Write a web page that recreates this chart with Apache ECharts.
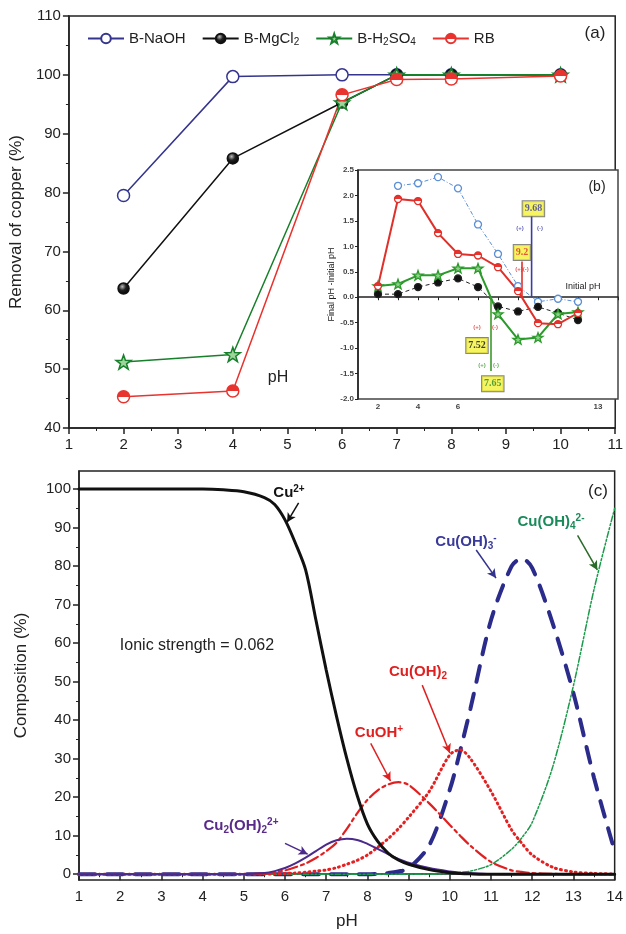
<!DOCTYPE html>
<html><head><meta charset="utf-8">
<script src="https://cdn.jsdelivr.net/npm/echarts@6/dist/echarts.min.js"></script>
<style>html,body{margin:0;padding:0;background:#fff}#c{width:626px;height:934px}</style>
</head><body><div id="c"></div>
<script>
// ---------- Panel (a): removal of copper vs pH ----------
const phA = [2, 4, 6, 7, 8, 10];
const naohA = [79.5, 99.7, 100, 100, 100, 100];
const mgcl2A = [63.7, 85.8, 95.3, 100, 100, 100];
const h2so4A = [51.2, 52.5, 95.3, 100, 100, 100];
const rbA = [45.3, 46.3, 96.6, 99.2, 99.3, 99.8];
const seriesNames = ['B-NaOH', 'B-MgCl2', 'B-H2SO4', 'RB'];

// ---------- Panel (b) inset: final pH - initial pH ----------
const phB = [2, 3, 4, 5, 6, 7, 8, 9, 10, 11, 12];
const naohB = [null, 2.19, 2.24, 2.36, 2.14, 1.43, 0.85, 0.22, -0.09, -0.03, -0.09];
const mgcl2B = [0.06, 0.06, 0.2, 0.29, 0.37, 0.2, -0.18, -0.28, -0.19, -0.31, -0.45];
const h2so4B = [0.22, 0.26, 0.43, 0.43, 0.57, 0.57, -0.33, -0.83, -0.79, -0.33, -0.29];
const rbB = [0.22, 1.93, 1.89, 1.26, 0.85, 0.82, 0.59, 0.12, -0.51, -0.53, -0.31];
const pzcValues = [9.68, 9.2, 7.65];
const pzcLineEnds = [1.6, 0.7, -1.45];
const pzcBoxText = ['9.68', '9.2', '7.52', '7.65'];
const pzcBoxX = [9.77, 9.2, 6.95, 7.74];
const pzcBoxY = [1.74, 0.88, -0.95, -1.70];
const xLabelsB = [2, 4, 6, 13];

// ---------- Panel (c): copper speciation ----------
const phC = [1, 1.5, 2, 2.5, 3, 3.5, 4, 4.5, 5, 5.5, 5.75, 6, 6.25, 6.5, 6.75, 7, 7.25, 7.5, 7.75, 8, 8.25, 8.5, 8.75, 9, 9.5, 10, 10.25, 10.5, 11, 11.5, 11.75, 12, 12.5, 13, 13.5, 14];
const cu2 =     [100, 100, 100, 100, 100, 100, 100, 99.8, 99.3, 97.8, 96, 92, 86, 79, 66, 53, 41, 30, 20.5, 13, 8.5, 5.5, 3.7, 2.6, 1.2, 0.4, 0.2, 0.1, 0, 0, 0, 0, 0, 0, 0, 0];
const cu2oh2 =  [0, 0, 0, 0, 0, 0, 0, 0, 0, 0.3, 0.8, 1.6, 2.8, 4.3, 6, 7.7, 8.8, 9.2, 8.9, 7.9, 6.6, 5.2, 4, 3, 1.6, 0.7, 0.4, 0.25, 0.05, 0, 0, 0, 0, 0, 0, 0];
const cuoh =    [0, 0, 0, 0, 0, 0, 0, 0, 0, 0.2, 0.5, 1, 1.8, 2.8, 4.2, 6, 8.2, 11.8, 15.8, 19.3, 21.8, 23.3, 23.9, 23.2, 18.4, 12.8, 10, 7.4, 3.2, 1, 0.6, 0.3, 0.1, 0, 0, 0];
const cuoh2 =   [0, 0, 0, 0, 0, 0, 0, 0, 0, 0.05, 0.1, 0.2, 0.3, 0.5, 0.8, 1.1, 1.7, 2.6, 3.6, 5, 7, 9.2, 11.8, 14.8, 21.5, 31, 32.3, 30, 21.5, 11.5, 8, 5, 1.8, 0.6, 0.2, 0.05];
const cuoh3 =   [0, 0, 0, 0, 0, 0, 0, 0, 0, 0, 0, 0, 0, 0, 0, 0, 0, 0, 0, 0, 0.1, 0.3, 0.7, 1.5, 7.5, 22, 32, 43, 66, 80, 82, 79.5, 65, 47, 25, 6];
const cuoh4 =   [0, 0, 0, 0, 0, 0, 0, 0, 0, 0, 0, 0, 0, 0, 0, 0, 0, 0, 0, 0, 0, 0, 0, 0, 0, 0.2, 0.5, 0.8, 2.5, 6.5, 9.5, 13.5, 28, 49, 74, 95];
const yTicksC = [0, 10, 20, 30, 40, 50, 60, 70, 80, 90, 100];
const yMinorC = [5, 15, 25, 35, 45, 55, 65, 75, 85, 95];
const arrowsC = [
  [[6.33, 96.4], [6.05, 91.4], '#111111'],
  [[10.64, 84.2], [11.12, 76.9], '#33338f'],
  [[13.1, 88], [13.58, 79], '#2a6a2a'],
  [[9.33, 49.1], [10.0, 31.5], '#e02020'],
  [[8.08, 34], [8.56, 24.2], '#e02020'],
  [[6.0, 8.0], [6.55, 5.2], '#4a2a8a']
];

const FONT = '"Liberation Sans", Arial, Helvetica, sans-serif';
const NAVY = '#35358f', BLACK = '#111111', GREEN = '#17802a', RED = '#e8332f';
const STAR = 'path://M0,-10 L2.35,-3.24 9.51,-3.09 3.8,1.24 5.88,8.09 0,4 -5.88,8.09 -3.8,1.24 -9.51,-3.09 -2.35,-3.24Z';
const halfRed = {type: 'linear', x: 0, y: 0, x2: 0, y2: 1, colorStops: [{offset: 0, color: RED}, {offset: 0.5, color: RED}, {offset: 0.5, color: '#fff'}, {offset: 1, color: '#fff'}]};
const ball = {type: 'radial', x: 0.4, y: 0.35, r: 0.65, colorStops: [{offset: 0, color: '#bbbbbb'}, {offset: 0.45, color: '#222'}, {offset: 1, color: '#000'}]};

const pair = (xs, ys) => xs.map((x, i) => [x, ys[i]]);
const axisTxt = {color: '#222', fontFamily: FONT};

function aSeries(name, ys, color, symbol, fill, size) {
  return {
    type: 'line', name, xAxisIndex: 0, yAxisIndex: 0, data: pair(phA, ys),
    symbol, symbolSize: size, symbolKeepAspect: true, z: 3,
    lineStyle: {color, width: 1.5},
    itemStyle: {color: fill, borderColor: color, borderWidth: 1.5}
  };
}
function bSeries(ys, color, symbol, fill, size, lineType, width) {
  return {
    type: 'line', xAxisIndex: 1, yAxisIndex: 1, data: pair(phB, ys), z: 12,
    symbol, symbolSize: size, symbolKeepAspect: true, connectNulls: false,
    lineStyle: {color, width, type: lineType},
    itemStyle: {color: fill, borderColor: color, borderWidth: 1.3}
  };
}
function cSeries(ys, color, width, type, extra) {
  return Object.assign({
    type: 'line', xAxisIndex: 2, yAxisIndex: 2, data: pair(phC, ys), symbol: 'none',
    smooth: 0.3, z: 3,
    lineStyle: {color, width, type, cap: 'round'}
  }, extra || {});
}

const series = [
  aSeries(seriesNames[0], naohA, NAVY, 'circle', '#fff', 12),
  aSeries(seriesNames[1], mgcl2A, BLACK, 'circle', ball, 11),
  aSeries(seriesNames[2], h2so4A, GREEN, STAR, '#9fd49a', 15),
  aSeries(seriesNames[3], rbA, RED, 'circle', halfRed, 12),

  bSeries(naohB, '#5b8fd6', 'circle', '#fff', 7, [4, 2, 1, 2], 1),
  bSeries(mgcl2B, '#222', 'circle', '#111', 7, [4, 3], 1),
  bSeries(h2so4B, '#2a9a2a', STAR, '#8fd08a', 10, 'solid', 2),
  bSeries(rbB, '#e0302a', 'circle', halfRed, 7, 'solid', 2),
  // point-of-zero-charge vertical lines
  ...pzcValues.map((v, i) => ({
    type: 'line', xAxisIndex: 1, yAxisIndex: 1, z: 12, symbol: 'none',
    data: [[v, 0], [v, pzcLineEnds[i]]],
    lineStyle: {color: ['#3a3aa8', '#e0302a', '#3c9a2a'][i], width: 1.6}
  })),
  {
    type: 'scatter', xAxisIndex: 1, yAxisIndex: 1, z: 13, symbolSize: 0, silent: true,
    data: pzcBoxText.map((t, i) => ({
      value: [pzcBoxX[i], pzcBoxY[i]],
      label: {
        show: true, position: 'inside', formatter: t, fontFamily: '"Liberation Serif", "Times New Roman", serif',
        fontSize: 10, fontWeight: 'bold', color: ['#3a3aa8', '#e0302a', '#111', '#2a8a2a'][i],
        backgroundColor: '#f4f23a', borderColor: '#666', borderWidth: 1, padding: [3, 2, 2, 2]
      }
    }))
  },
  {
    type: 'scatter', xAxisIndex: 1, yAxisIndex: 1, z: 13, symbolSize: 0, silent: true,
    data: [
      {value: [9.1, 1.36], c: '#3a3aa8', t: '(+)'}, {value: [10.1, 1.36], c: '#3a3aa8', t: '(-)'},
      {value: [9.2, 0.55], c: '#e0302a', t: '(+)(-)'},
      {value: [6.95, -0.59], c: '#e0302a', t: '(+)'}, {value: [7.85, -0.59], c: '#e0302a', t: '(-)'},
      {value: [7.2, -1.34], c: '#3c9a2a', t: '(+)'}, {value: [7.9, -1.34], c: '#3c9a2a', t: '(-)'}
    ].map(d => ({value: d.value, label: {show: true, position: 'inside', formatter: d.t, fontSize: 6, fontWeight: 'bold', color: d.c}}))
  },

  cSeries(cuoh3, '#2b2b8c', 4, [16, 12], {z: 2}),
  cSeries(cuoh4, '#1a9a4a', 1.5, [6, 2, 2, 2, 2, 2]),
  cSeries(cuoh2, '#e52020', 3, [1, 4]),
  cSeries(cuoh, '#e02020', 2.2, [12, 4, 3, 4]),
  cSeries(cu2oh2, '#4a2a8a', 2),
  cSeries(cu2, '#111', 3, 'solid', {
    markLine: {
      silent: true, symbol: ['none', 'arrow'], symbolSize: [7, 9], animation: false,
      label: {show: false},
      data: arrowsC.map(a => [{coord: a[0], lineStyle: {color: a[2], width: 1.5, type: 'solid'}}, {coord: a[1]}])
    }
  })
];

const rich = {
  s: {fontSize: 10, padding: [8, 0, 0, 0], fontFamily: FONT},
  u: {fontSize: 10, padding: [0, 0, 8, 0], fontFamily: FONT}
};
function txt(x, y, text, color, size, weight, richExtra) {
  const r = {};
  for (const k in rich) r[k] = Object.assign({}, rich[k], {color, fontWeight: weight});
  return {
    type: 'text', x, y, z: 30, silent: true,
    style: {text, fill: color, fontSize: size, fontWeight: weight || 'normal', fontFamily: FONT,
      align: 'center', verticalAlign: 'middle', rich: Object.assign(r, richExtra || {})}
  };
}

const option = {
  animation: false,
  backgroundColor: '#fff',
  grid: [
    {left: 67, top: 16, width: 553, height: 412, show: true, borderColor: '#222', borderWidth: 1.5, backgroundColor: 'transparent'},
    {left: 358, top: 170, width: 260, height: 229, show: true, borderColor: '#444', borderWidth: 1.5, backgroundColor: '#fff', z: 10},
    {left: 79, top: 471, width: 545, height: 409, show: true, borderColor: '#222', borderWidth: 1.5, backgroundColor: 'transparent'}
  ],
  legend: {
    data: seriesNames, left: 82, top: 26, itemGap: 16, itemWidth: 36, itemHeight: 12,
    textStyle: {fontSize: 15, color: '#222', fontFamily: FONT, rich: {s: {fontSize: 10, padding: [8, 0, 0, 0], color: '#222'}}},
    formatter: n => n.replace(/(\d)/g, '{s|$1}')
  },
  xAxis: [
    {gridIndex: 0, type: 'value', min: 1, max: 11, interval: 1,
     axisLine: {lineStyle: {color: '#222', width: 1.5}}, axisTick: {length: 6, lineStyle: {width: 1.5}},
     minorTick: {show: true, splitNumber: 2, length: 3, lineStyle: {color: '#222'}},
     axisLabel: Object.assign({fontSize: 15, margin: 9}, axisTxt), splitLine: {show: false}},
    {gridIndex: 1, type: 'value', min: 1, max: 14, interval: 1, z: 11,
     axisLine: {onZero: true, lineStyle: {color: '#222', width: 1.5}}, axisTick: {length: 3, lineStyle: {width: 1}},
     axisLabel: {fontSize: 8, color: '#444', fontFamily: FONT, fontWeight: 'bold', margin: 4,
       formatter: v => (xLabelsB.indexOf(v) >= 0 ? String(v) : '')},
     splitLine: {show: false}},
    {gridIndex: 2, type: 'value', min: 1, max: 14, interval: 1,
     axisLine: {lineStyle: {color: '#222', width: 1.5}}, axisTick: {length: 6, lineStyle: {width: 1.5}},
     minorTick: {show: true, splitNumber: 2, length: 3, lineStyle: {color: '#222'}},
     axisLabel: Object.assign({fontSize: 15, margin: 9}, axisTxt), splitLine: {show: false},
     name: 'pH', nameLocation: 'middle', nameGap: 33, nameTextStyle: Object.assign({fontSize: 17}, axisTxt)}
  ],
  yAxis: [
    {gridIndex: 0, type: 'value', min: 40, max: 110, interval: 10,
     axisLine: {lineStyle: {color: '#222', width: 1.5}}, axisTick: {length: 6, lineStyle: {width: 1.5}},
     minorTick: {show: true, splitNumber: 2, length: 3, lineStyle: {color: '#222'}},
     axisLabel: Object.assign({fontSize: 15, margin: 8}, axisTxt), splitLine: {show: false},
     name: 'Removal of copper (%)', nameLocation: 'middle', nameGap: 37, nameTextStyle: Object.assign({fontSize: 17}, axisTxt)},
    {gridIndex: 1, type: 'value', min: -2, max: 2.5, interval: 0.5, z: 11,
     axisLine: {lineStyle: {color: '#222', width: 1.5}}, axisTick: {length: 3},
     axisLabel: {fontSize: 8, color: '#444', fontFamily: FONT, fontWeight: 'bold', margin: 4, formatter: v => v.toFixed(1)},
     splitLine: {show: false},
     name: 'Final pH -Initial pH', nameLocation: 'middle', nameGap: 20, nameTextStyle: {fontSize: 9, color: '#222', fontFamily: FONT}},
    {gridIndex: 2, type: 'value', min: -1.5, max: 104.7,
     axisLine: {lineStyle: {color: '#222', width: 1.5}},
     axisTick: {customValues: yTicksC, length: 6, lineStyle: {width: 1.5}},
     axisLabel: Object.assign({customValues: yTicksC, fontSize: 15, margin: 8}, axisTxt), splitLine: {show: false},
     name: 'Composition (%)', nameLocation: 'middle', nameGap: 49, nameTextStyle: Object.assign({fontSize: 17}, axisTxt)},
    {gridIndex: 2, type: 'value', min: -1.5, max: 104.7, position: 'left',
     axisLine: {show: false}, axisTick: {customValues: yMinorC, length: 3, lineStyle: {color: '#222', width: 1}},
     axisLabel: {show: false}, splitLine: {show: false}}
  ],
  series,
  graphic: [
    txt(595, 33, '(a)', '#222', 17),
    txt(278, 378, 'pH', '#222', 16),
    txt(597, 187, '(b)', '#222', 14),
    txt(583, 287, 'Initial pH', '#222', 9),
    txt(598, 491, '(c)', '#222', 17),
    txt(197, 646, 'Ionic strength = 0.062', '#222', 16),
    txt(289, 493, 'Cu{u|2+}', '#111', 15, 'bold'),
    txt(466, 542, 'Cu(OH){s|3}{u|-}', '#3a3a9a', 15, 'bold'),
    txt(551, 522, 'Cu(OH){s|4}{u|2-}', '#1a8a5a', 15, 'bold'),
    txt(418, 672, 'Cu(OH){s|2}', '#e02020', 15, 'bold'),
    txt(379, 733, 'CuOH{u|+}', '#e02020', 15, 'bold'),
    txt(241, 826, 'Cu{s|2}(OH){s|2}{u|2+}', '#5a2a8a', 15, 'bold')
  ]
};

const chart = echarts.init(document.getElementById('c'), null, {renderer: 'canvas', width: 626, height: 934});
chart.setOption(option);
</script>
</body></html>
